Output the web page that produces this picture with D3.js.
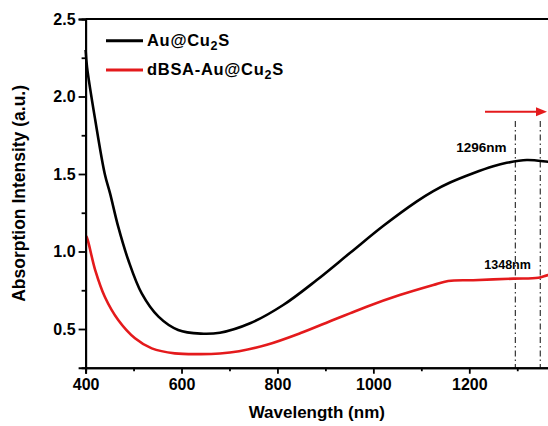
<!DOCTYPE html>
<html>
<head>
<meta charset="utf-8">
<script src="https://cdn.jsdelivr.net/npm/d3@7"></script>
<style>
  html, body { margin: 0; padding: 0; background: #fff; }
  svg { display: block; font-family: "Liberation Sans", Arial, sans-serif; font-weight: bold; }
</style>
</head>
<body>
<svg id="chart" width="548" height="426"></svg>
<script>
// UV-Vis-NIR absorption spectra (wavelength in nm, absorbance in a.u.)
const auWavelength = [400, 403, 420, 440, 451, 468, 489, 517, 552, 593, 640, 680, 743, 812, 882, 951, 1021, 1090, 1125, 1160, 1208, 1250, 1278, 1320, 1364, 1400];
const auAbsorbance = [2.30, 2.19, 1.85, 1.50, 1.375, 1.16, 0.945, 0.73, 0.58, 0.494, 0.470, 0.476, 0.537, 0.655, 0.816, 0.99, 1.166, 1.322, 1.39, 1.445, 1.505, 1.550, 1.572, 1.590, 1.579, 1.565];

const bsaWavelength = [400, 402, 420, 440, 468, 503, 538, 586, 640, 680, 720, 778, 847, 916, 951, 986, 1055, 1125, 1156, 1208, 1292, 1344, 1364, 1400];
const bsaAbsorbance = [1.10, 1.095, 0.88, 0.708, 0.558, 0.44, 0.375, 0.343, 0.338, 0.342, 0.357, 0.398, 0.472, 0.558, 0.601, 0.644, 0.719, 0.784, 0.81, 0.815, 0.825, 0.831, 0.848, 0.87];

const seriesNames = ["Au@Cu", "dBSA-Au@Cu"];
const seriesColors = ["#000000", "#e41a1c"];

const peakPositions = [1296, 1348];
const peakLabels = ["1296nm", "1348nm"];

const xMajorTicks = [400, 600, 800, 1000, 1200];
const xMinorTicks = [500, 700, 900, 1100, 1300];
const yMajorTicks = [0.5, 1.0, 1.5, 2.0, 2.5];
const yMinorTicks = [0.75, 1.25, 1.75, 2.25];

const W = 548, H = 426;
const margin = { top: 19, left: 85.6, bottom: 58.25 };
const plotRight = 565.2;

const x = d3.scaleLinear().domain([400, 1400]).range([margin.left, plotRight]);
const y = d3.scaleLinear().domain([0.25, 2.5]).range([H - margin.bottom, margin.top]);

const svg = d3.select("#chart");

// dash-dot guide lines at the two band maxima
svg.append("g").selectAll("line").data(peakPositions).join("line")
  .attr("x1", d => x(d)).attr("x2", d => x(d))
  .attr("y1", 121).attr("y2", y(0.25))
  .attr("stroke", "#222").attr("stroke-width", 1.1)
  .attr("stroke-dasharray", "6,3,1.5,3");

// spectra
const series = [
  { name: seriesNames[0], color: seriesColors[0], pts: auWavelength.map((w, i) => [w, auAbsorbance[i]]) },
  { name: seriesNames[1], color: seriesColors[1], pts: bsaWavelength.map((w, i) => [w, bsaAbsorbance[i]]) }
];
const line = d3.line().x(d => x(d[0])).y(d => y(d[1])).curve(d3.curveCatmullRom.alpha(0.5));
svg.append("g").selectAll("path").data(series).join("path")
  .attr("d", d => line(d.pts))
  .attr("fill", "none")
  .attr("stroke", d => d.color)
  .attr("stroke-width", 2.6)
  .attr("stroke-linejoin", "round");

// axes
const xAxis = svg.append("g").attr("transform", `translate(0,${y(0.25)})`)
  .call(d3.axisBottom(x).tickValues(xMajorTicks).tickSize(6).tickPadding(5).tickFormat(d3.format("d")));
const xMinor = svg.append("g").attr("transform", `translate(0,${y(0.25)})`)
  .call(d3.axisBottom(x).tickValues(xMinorTicks).tickSize(3.5).tickFormat(""));
const yAxis = svg.append("g").attr("transform", `translate(${margin.left},0)`)
  .call(d3.axisLeft(y).tickValues(yMajorTicks).tickSize(7).tickPadding(3).tickFormat(d3.format(".1f")));
const yMinor = svg.append("g").attr("transform", `translate(${margin.left},0)`)
  .call(d3.axisLeft(y).tickValues(yMinorTicks).tickSize(4).tickFormat(""));

[xAxis, xMinor, yAxis, yMinor].forEach(g => {
  g.select(".domain").attr("stroke", "#000").attr("stroke-width", 2);
  g.selectAll(".tick line").attr("stroke", "#000").attr("stroke-width", 1.8);
  g.selectAll(".tick text").attr("fill", "#000").attr("font-size", 16)
    .attr("font-family", "'Liberation Sans', Arial, sans-serif").attr("font-weight", "bold");
});
xAxis.selectAll(".tick text").attr("dy", "0.72em");

// top frame line
svg.append("line")
  .attr("x1", margin.left).attr("x2", plotRight)
  .attr("y1", y(2.5)).attr("y2", y(2.5))
  .attr("stroke", "#000").attr("stroke-width", 2);

// axis titles
svg.append("text")
  .attr("x", (margin.left + W) / 2).attr("y", 418)
  .attr("text-anchor", "middle").attr("font-size", 17)
  .text("Wavelength (nm)");
svg.append("text")
  .attr("transform", `translate(25,${(y(0.25) + y(2.5)) / 2}) rotate(-90)`)
  .attr("text-anchor", "middle").attr("font-size", 17.5)
  .text("Absorption Intensity (a.u.)");

// legend
const legend = svg.append("g").selectAll("g").data(series).join("g")
  .attr("transform", (d, i) => `translate(106,${40.7 + i * 29.3})`);
legend.append("line").attr("x1", 0).attr("x2", 37).attr("y1", 0).attr("y2", 0)
  .attr("stroke", d => d.color).attr("stroke-width", 3);
const lt = legend.append("text").attr("x", 41).attr("y", 5).attr("font-size", 16.5)
  .attr("letter-spacing", 0.7);
lt.append("tspan").text(d => d.name);
lt.append("tspan").attr("dy", 4).attr("font-size", 12.5).text("2");
lt.append("tspan").attr("dy", -4).text("S");

// peak labels
svg.append("text").attr("x", 506.5).attr("y", 151.5).attr("text-anchor", "end")
  .attr("font-size", 13.5).text(peakLabels[0]);
svg.append("text").attr("x", 484.3).attr("y", 268.5).attr("text-anchor", "start")
  .attr("font-size", 12.5).text(peakLabels[1]);

// red-shift arrow
const arrowY = 111.7;
svg.append("line").attr("x1", 485).attr("x2", 538).attr("y1", arrowY).attr("y2", arrowY)
  .attr("stroke", seriesColors[1]).attr("stroke-width", 2);
svg.append("path")
  .attr("d", d3.line()([[536, arrowY - 4.5], [547, arrowY], [536, arrowY + 4.5]]) + "Z")
  .attr("fill", seriesColors[1]);
</script>
</body>
</html>
